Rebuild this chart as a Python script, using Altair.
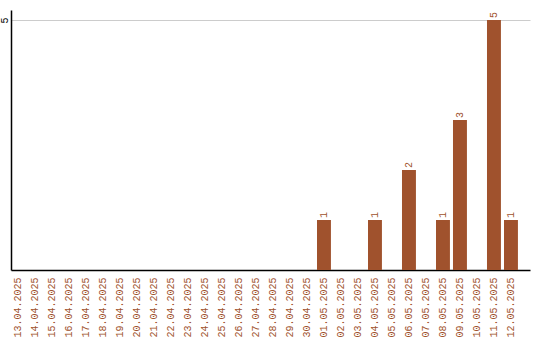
import altair as alt
import pandas as pd

dates = [
    "13.04.2025", "14.04.2025", "15.04.2025", "16.04.2025", "17.04.2025",
    "18.04.2025", "19.04.2025", "20.04.2025", "21.04.2025", "22.04.2025",
    "23.04.2025", "24.04.2025", "25.04.2025", "26.04.2025", "27.04.2025",
    "28.04.2025", "29.04.2025", "30.04.2025", "01.05.2025", "02.05.2025",
    "03.05.2025", "04.05.2025", "05.05.2025", "06.05.2025", "07.05.2025",
    "08.05.2025", "09.05.2025", "10.05.2025", "11.05.2025", "12.05.2025",
]
counts = [0, 0, 0, 0, 0, 0, 0, 0, 0, 0,
          0, 0, 0, 0, 0, 0, 0, 0, 1, 0,
          0, 1, 0, 2, 0, 1, 3, 0, 5, 1]

df = pd.DataFrame({"date": dates, "count": counts})
df["label"] = df["count"].apply(lambda v: str(v) if v > 0 else "")

BAR = "#A0522D"
FONT = "Liberation Mono"

x = alt.X(
    "date:N",
    sort=dates,
    title=None,
    scale=alt.Scale(paddingInner=0.18, paddingOuter=0.355, align=0),
    axis=alt.Axis(
        labelAngle=-90, labelAlign="right", labelBaseline="middle",
        labelColor=BAR, labelFont=FONT, labelFontSize=10,
        labelPadding=7, ticks=False, domainColor="#000000", domainWidth=1.5,
        grid=False,
    ),
)
y = alt.Y(
    "count:Q",
    title=None,
    scale=alt.Scale(domain=[0, 5.2], nice=False),
    axis=alt.Axis(
        values=[5], labelAngle=-90, labelAlign="center", labelBaseline="bottom",
        labelFont=FONT, labelFontSize=10, labelColor="#000000", labelPadding=2,
        ticks=False, domainColor="#000000", domainWidth=1.5,
        grid=True, gridColor="#cccccc",
    ),
)

bars = alt.Chart(df).mark_bar(color=BAR).encode(x=x, y=y)

labels = alt.Chart(df).mark_text(
    angle=270, align="left", baseline="middle", dx=2,
    font=FONT, fontSize=10, color=BAR,
).encode(x=alt.X("date:N", sort=dates), y="count:Q", text="label:N")

chart = (
    alt.layer(bars, labels)
    .properties(
        width=519, height=260,
        autosize=alt.AutoSizeParams(type="none"),
        padding={"left": 11, "top": 10, "right": 10, "bottom": 70},
    )
    .configure_view(stroke=None)
)

chart.save("out.html", embed_options={"renderer": "svg", "actions": False})
